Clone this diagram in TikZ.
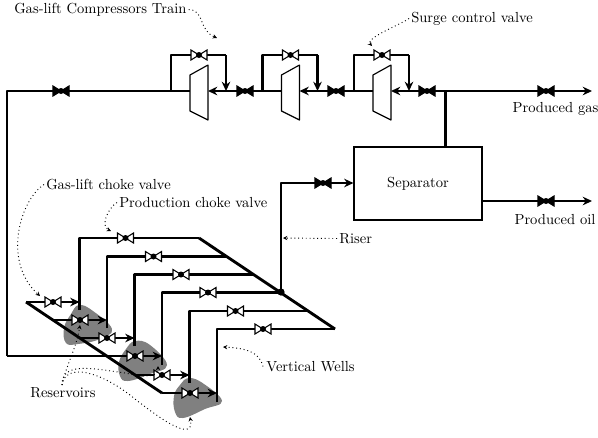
\documentclass[tikz,border=0pt]{standalone}
\usetikzlibrary{arrows.meta}
\tikzset{
  x=0.7pt,y=-0.7pt,
  pipe/.style={line width=2pt,line join=round},
  flow/.style={pipe,-{Stealth[length=6.5pt,width=6pt]}},
  note/.style={dotted,line width=.65pt,-{Stealth[length=3pt,width=3pt]}},
  label/.style={inner sep=0pt,font=\fontsize{10.2pt}{12pt}\selectfont},
  rock/.style={fill=black!50,draw=none},
  valve/.pic={\draw[fill=white,line width=.75pt,line join=miter] (-8,-5)--(8,5)--(8,-5)--(-8,5)--cycle; \fill (0,0) circle (3);},
  shut/.pic={\draw[fill=black,line width=.75pt] (-8,-5)--(8,5)--(8,-5)--(-8,5)--cycle; \fill (0,0) circle (3);},
  comp/.style={draw,line width=.8pt,fill=white,line join=round}
}
\begin{document}
\begin{tikzpicture}
\useasboundingbox (0,0) rectangle (598,437);
% reservoirs
\fill[rock] plot[smooth cycle,tension=.7] coordinates {(79,305) (93,311) (112,329) (100,339) (78,344) (66,343) (64,328) (71,314)};
\fill[rock] plot[smooth cycle,tension=.7] coordinates {(135,341) (150,345) (167,365) (150,374) (128,381) (120,376) (119,362) (126,349)};
\fill[rock] plot[smooth cycle,tension=.7] coordinates {(189,378) (204,384) (222,401) (205,409) (183,418) (175,412) (174,396) (180,385)};
% separator
\node[draw,line width=.8pt,minimum width=89.6pt,minimum height=51.1pt,inner sep=0pt,label] (sep) at (418,183.5) {Separator};
% top main line coordinates
\coordinate (wl) at (7,91);
\coordinate (gasend) at (592,91);
\coordinate (jsep) at (445.5,91);
\coordinate (sept) at (445.5,147);
\coordinate (lb) at (7,356);
% compressors
\foreach \n/\xx in {1/190,2/281.5,3/373}{
  \coordinate (c\n in) at (\xx,91);
  \coordinate (c\n out) at (\xx+18,91);
  \coordinate (b\n a) at (\xx-19,91);
  \coordinate (b\n b) at (\xx-19,55);
  \coordinate (b\n v) at (\xx+9,55);
  \coordinate (b\n c) at (\xx+36,55);
  \coordinate (b\n d) at (\xx+36,91);
}
% main line pieces
\draw[pipe] (lb) -- (wl) -- (c1in);
\draw[flow] (b2a) -- (c1out);
\draw[flow] (b3a) -- (c2out);
\draw[flow] (jsep) -- (c3out);
\draw[pipe] (c2in) -- (b2a);
\draw[pipe] (c3in) -- (b3a);
\draw[flow] (jsep) -- (gasend);
\draw[pipe] (jsep) -- (sept);
\foreach \n in {1,2,3}{
  \draw[pipe] (b\n a) -- (b\n b) -- (b\n c);
  \draw[flow] (b\n c) -- (b\n d);
  \path (b\n v) pic {valve};
}
\foreach \xx in {190,281.5,373}{
  \draw[comp] (\xx,75) -- (\xx+18,65) -- (\xx+18,120) -- (\xx,111) -- cycle;
}
\foreach \xx in {61,245,336,427,546}{ \path (\xx,91) pic {shut}; }
% oil and riser
\coordinate (oilend) at (592,201);
\coordinate (oilst) at (sep.east |- oilend);
\coordinate (rb) at (281,292);
\coordinate (rt) at (281,183);
\coordinate (sepin) at (sep.west |- rt);
\draw[flow] (oilst) -- (oilend);
\path (546,201) pic {shut};
\draw[flow] (rb) -- (rt) -- (sepin);
\path (323,183) pic {shut};
% manifolds
\coordinate (ga) at (26,302);
\coordinate (gb) at (162,393);
\coordinate (pa) at (199,238);
\coordinate (pb) at (335,329);
\draw[pipe] (ga) -- (gb);
\draw[pipe] (pa) -- (pb);
\fill (rb) circle (3.6);
% wells: x, bottom, top, manifold end x, production valve x
\foreach \i/\wx/\bot/\top/\mx/\vx in {1/79.5/310/238/199/125.5,2/107/328/256.5/226/153.5,3/134.5/346/274.5/253/181,4/162/365/292.5/280/208,5/189.5/383/311/307/235.5,6/217/402/329/335/263}{
  \draw[pipe] (\wx,\bot) -- (\wx,\top) -- (\mx,\top);
  \path (\vx,\top) pic {valve};
}
% gas-lift injections
\draw[flow] (ga) -- (79.5,302);
\draw[flow] (52,320) -- (107,320);
\draw[flow] (79,338) -- (134.5,338);
\draw[flow] (lb) -- (162,356);
\draw[flow] (134,375) -- (189.5,375);
\draw[flow] (gb) -- (217,393);
\foreach \xx/\yy in {53/302,80/320,107/338,135/356,162/375,190/393}{ \path (\xx,\yy) pic {valve}; }
% labels
\node[label,anchor=west] (t1) at (14,9.5) {Gas-lift Compressors Train};
\node[label,anchor=west] (t2) at (411,18.5) {Surge control valve};
\node[label,anchor=west] (t3) at (46,184.5) {Gas-lift choke valve};
\node[label,anchor=west] (t4) at (119,202.5) {Production choke valve};
\node[label,anchor=west] (t5) at (339,238.5) {Riser};
\node[label,anchor=west] (t6) at (266,366.5) {Vertical Wells};
\node[label,anchor=west] (t7) at (30,393) {Reservoirs};
\node[label] (t8) at (555.5,108.5) {Produced gas};
\node[label] (t9) at (555,220) {Produced oil};
% notes
\coordinate (a1) at (217,38);
\coordinate (a2) at (372,46);
\coordinate (a3) at (40,296);
\coordinate (a4) at (111,231);
\coordinate (a5) at (283,238);
\coordinate (a6) at (223,347);
\coordinate (a7) at (80,325);
\coordinate (a8) at (158,366);
\coordinate (a9) at (190,417);
\coordinate (r0) at (62,385);
\draw[note] (t1.east) ++(2,0) .. controls (205,10) and (198,30) .. (a1);
\draw[note] (t2.west) ++(-2,0) .. controls (400,25) and (365,38) .. (a2);
\draw[note] (t3.west) ++(-2,0) .. controls (20,200) and (2,262) .. (a3);
\draw[note] (t4.west) ++(-2,0) .. controls (108,208) and (100,226) .. (a4);
\draw[note] (t5.west) ++(-2,0) -- (a5);
\draw[note] (t6.west) ++(-3,0) .. controls (260,352) and (245,348) .. (a6);
\draw[note] (r0) .. controls (66,365) and (76,350) .. (a7);
\draw[note] (r0) .. controls (62,362) and (90,368) .. (125,373) .. controls (145,377) and (158,378) .. (a8);
\draw[note] (r0) .. controls (66,362) and (100,372) .. (130,395) .. controls (155,415) and (195,445) .. (a9);
\end{tikzpicture}
\end{document}
